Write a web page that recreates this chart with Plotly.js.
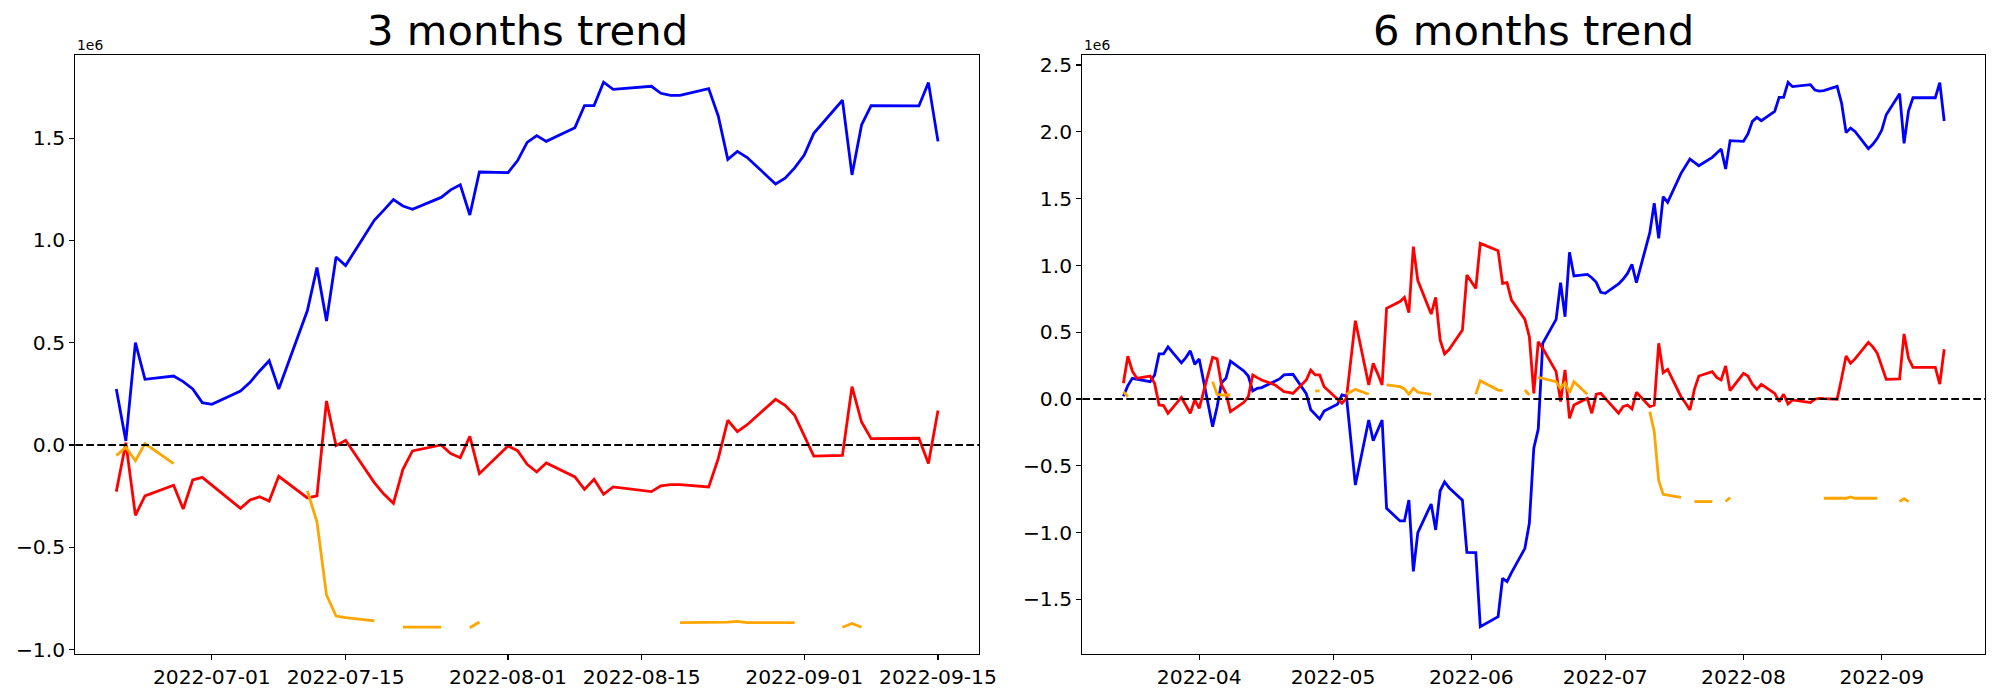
<!DOCTYPE html>
<html>
<head>
<meta charset="utf-8">
<script src="https://cdn.plot.ly/plotly-3.0.1.min.js"></script>
<style>html,body{margin:0;padding:0;background:#fff;}</style>
</head>
<body>
<div id="chart" style="width:2000px;height:700px;"></div>
<script>
// ---------- 3 months panel (values in units of 1e6) ----------
const dates3m = ['2022-06-21','2022-06-22','2022-06-23','2022-06-24','2022-06-27','2022-06-28','2022-06-29','2022-06-30','2022-07-01',
'2022-07-04','2022-07-05','2022-07-06','2022-07-07','2022-07-08','2022-07-11','2022-07-12','2022-07-13','2022-07-14','2022-07-15',
'2022-07-18','2022-07-19','2022-07-20','2022-07-21','2022-07-22','2022-07-25','2022-07-26','2022-07-27','2022-07-28','2022-07-29',
'2022-08-01','2022-08-02','2022-08-03','2022-08-04','2022-08-05','2022-08-08','2022-08-09','2022-08-10','2022-08-11','2022-08-12',
'2022-08-16','2022-08-17','2022-08-18','2022-08-19','2022-08-22','2022-08-23','2022-08-24','2022-08-25','2022-08-26',
'2022-08-29','2022-08-30','2022-08-31','2022-09-01','2022-09-02','2022-09-05','2022-09-06','2022-09-07','2022-09-08',
'2022-09-13','2022-09-14','2022-09-15'];
const blue3m = [0.274,0.02,0.500,0.321,0.337,0.31,0.274,0.207,0.199,
0.264,0.306,0.362,0.412,0.274,0.657,0.867,0.606,0.919,0.877,
1.098,1.148,1.199,1.168,1.152,1.210,1.247,1.272,1.124,1.334,
1.331,1.390,1.479,1.512,1.484,1.551,1.659,1.659,1.773,1.738,
1.753,1.719,1.709,1.709,1.742,1.608,1.396,1.435,1.406,
1.276,1.304,1.354,1.417,1.523,1.685,1.320,1.564,1.659,
1.657,1.771,1.484];
const red3m = [-0.228,0.011,-0.344,-0.249,-0.197,-0.313,-0.171,-0.158,-0.196,
-0.310,-0.269,-0.253,-0.274,-0.153,-0.259,-0.249,0.215,-0.003,0.023,
-0.184,-0.240,-0.285,-0.119,-0.029,0.0,-0.042,-0.062,0.042,-0.140,
-0.005,-0.028,-0.094,-0.132,-0.088,-0.156,-0.217,-0.168,-0.241,-0.205,
-0.228,-0.200,-0.194,-0.194,-0.205,-0.067,0.121,0.065,0.098,
0.223,0.194,0.145,0.047,-0.054,-0.051,0.285,0.112,0.031,
0.033,-0.090,0.169];
const orange3m = [-0.052,-0.011,-0.077,0.007,-0.091,null,null,null,null,
null,null,null,null,null,-0.225,-0.376,-0.733,-0.836,-0.844,
-0.860,null,null,-0.890,-0.890,-0.890,null,null,-0.893,-0.865,
null,null,null,null,null,null,null,null,null,null,
null,null,null,-0.868,-0.868,-0.868,-0.866,-0.862,-0.868,
-0.868,-0.868,-0.868,null,null,-0.891,-0.872,-0.891,null,
null,null,null];
const xticks3m = ['2022-07-01','2022-07-15','2022-08-01','2022-08-15','2022-09-01','2022-09-15'];

// ---------- 6 months panel (values in units of 1e6) ----------
const dates6m = [
'2022-03-15','2022-03-16','2022-03-17','2022-03-18','2022-03-21','2022-03-22','2022-03-23','2022-03-24','2022-03-25','2022-03-28','2022-03-29','2022-03-30','2022-03-31',
'2022-04-01','2022-04-04','2022-04-05','2022-04-06','2022-04-07','2022-04-08','2022-04-11','2022-04-12','2022-04-13','2022-04-14','2022-04-15','2022-04-18','2022-04-19','2022-04-20','2022-04-21','2022-04-22','2022-04-25','2022-04-26','2022-04-27','2022-04-28','2022-04-29',
'2022-05-02','2022-05-03','2022-05-04','2022-05-06','2022-05-09','2022-05-10','2022-05-11','2022-05-12','2022-05-13','2022-05-16','2022-05-17','2022-05-18','2022-05-19','2022-05-20','2022-05-23','2022-05-24','2022-05-25','2022-05-26','2022-05-27','2022-05-30','2022-05-31',
'2022-06-02','2022-06-03','2022-06-07','2022-06-08','2022-06-09','2022-06-10','2022-06-13','2022-06-14','2022-06-15','2022-06-16','2022-06-17','2022-06-20','2022-06-21','2022-06-22','2022-06-23','2022-06-24','2022-06-27','2022-06-28','2022-06-29','2022-06-30',
'2022-07-01','2022-07-04','2022-07-05','2022-07-06','2022-07-07','2022-07-08','2022-07-11','2022-07-12','2022-07-13','2022-07-14','2022-07-15','2022-07-18','2022-07-19','2022-07-20','2022-07-21','2022-07-22','2022-07-25','2022-07-26','2022-07-27','2022-07-28','2022-07-29',
'2022-08-01','2022-08-02','2022-08-03','2022-08-04','2022-08-05','2022-08-08','2022-08-09','2022-08-10','2022-08-11','2022-08-12','2022-08-16','2022-08-17','2022-08-18','2022-08-19','2022-08-22','2022-08-23','2022-08-24','2022-08-25','2022-08-26','2022-08-29','2022-08-30','2022-08-31',
'2022-09-01','2022-09-02','2022-09-05','2022-09-06','2022-09-07','2022-09-08','2022-09-13','2022-09-14','2022-09-15'];
const blue6m = [
0.02,0.10,0.155,0.15,0.13,0.18,0.337,0.337,0.39,0.27,0.31,0.36,0.26,
0.30,-0.207,-0.06,0.122,0.155,0.284,0.21,0.172,0.06,0.08,0.085,0.13,0.15,0.18,0.18,0.185,0.04,-0.08,-0.115,-0.15,-0.09,
-0.04,0.03,0.022,-0.644,-0.157,-0.312,-0.23,-0.157,-0.818,-0.913,-0.913,-0.756,-1.29,-1.0,-0.786,-0.98,-0.689,-0.621,-0.664,-0.758,-1.148,
-1.15,-1.704,-1.63,-1.342,-1.367,-1.30,-1.118,-0.93,-0.369,-0.225,0.417,0.596,0.871,0.616,1.098,0.921,0.933,0.908,0.873,0.798,
0.791,0.861,0.896,0.94,1.008,0.871,1.245,1.465,1.203,1.514,1.472,1.689,1.744,1.796,1.771,1.746,1.809,1.839,1.871,1.722,1.934,
1.929,1.984,2.078,2.108,2.083,2.153,2.258,2.258,2.370,2.338,2.353,2.313,2.305,2.308,2.340,2.213,1.994,2.028,2.003,1.874,1.906,1.951,
2.013,2.128,2.285,1.914,2.158,2.255,2.255,2.368,2.081];
const red6m = [
0.117,0.32,0.21,0.155,0.172,0.117,-0.045,-0.05,-0.107,0.012,-0.047,-0.107,-0.007,
-0.07,0.312,0.30,0.105,0.042,-0.095,-0.025,0.017,0.18,0.16,0.142,0.105,0.08,0.055,0.05,0.042,0.142,0.217,0.18,0.18,0.092,
-0.002,-0.032,0.005,0.586,0.105,0.267,0.19,0.105,0.679,0.729,0.761,0.646,1.14,0.886,0.636,0.761,0.442,0.337,0.37,0.516,0.928,
0.828,1.165,1.11,0.866,0.871,0.74,0.596,0.467,0.042,0.429,0.38,0.205,-0.02,0.217,-0.145,-0.045,0.005,-0.107,0.035,0.042,
0.005,-0.107,-0.057,-0.045,-0.075,0.05,-0.057,-0.045,0.417,0.197,0.222,0.017,-0.03,-0.082,0.072,0.172,0.205,0.162,0.142,0.247,0.062,
0.192,0.172,0.11,0.072,0.11,0.042,-0.02,0.035,-0.037,-0.007,-0.027,-0.002,0.005,0.002,-0.002,0.155,0.322,0.267,0.30,0.424,0.39,0.342,
0.25,0.147,0.15,0.487,0.304,0.237,0.237,0.112,0.372];
const orange6m = [
0.055,0.017,null,null,null,null,null,null,null,null,null,null,null,
null,0.13,0.035,0.03,0.03,0.03,null,null,null,null,null,null,null,null,null,null,null,null,0.06,0.06,null,
null,null,0.035,0.072,0.035,null,null,null,0.105,0.092,0.075,0.035,0.08,0.05,0.035,null,null,null,null,null,null,
0.035,0.137,0.067,0.062,null,null,0.067,0.03,null,0.162,0.155,0.13,0.08,0.122,0.047,0.13,0.035,null,null,null,
null,null,null,null,null,null,-0.095,-0.245,-0.611,-0.714,-0.72,-0.736,null,null,-0.768,-0.768,-0.768,null,null,-0.768,-0.738,
null,null,null,null,null,null,null,null,null,null,null,null,null,-0.743,-0.743,-0.743,-0.743,-0.733,-0.743,-0.743,-0.743,-0.743,
null,null,-0.768,-0.746,-0.768,null,null,null,null];
const xticks6m = ['2022-04-01','2022-05-01','2022-06-01','2022-07-01','2022-08-01','2022-09-01'];

const titles = ['3 months trend', '6 months trend'];
const offsetLabel = '1e6';

// ---------- styling ----------
const LW = 2.8;
function series(x, y, color, xa, ya) {
  return {x: x, y: y, type: 'scatter', mode: 'lines', xaxis: xa, yaxis: ya,
          line: {color: color, width: LW}, connectgaps: false, hoverinfo: 'skip'};
}
const traces = [
  series(dates3m, blue3m, '#0000ff', 'x', 'y'),
  series(dates3m, red3m, '#ff0000', 'x', 'y'),
  series(dates3m, orange3m, '#ffa500', 'x', 'y'),
  series(dates6m, blue6m, '#0000ff', 'x2', 'y2'),
  series(dates6m, red6m, '#ff0000', 'x2', 'y2'),
  series(dates6m, orange6m, '#ffa500', 'x2', 'y2')
];

const W = 2000, H = 700;
const ax1 = [75.3, 979], ax2 = [1082.3, 1985.3], axY = [55, 654];
const dom = (a, b, s) => [a / s, b / s];
const ydom = [(H - axY[1]) / H, (H - axY[0]) / H];

const common = {
  showgrid: false, zeroline: false, showline: true, mirror: true,
  linecolor: 'black', linewidth: 1.1, ticks: 'outside', ticklen: 5,
  tickwidth: 1.1, tickcolor: 'black',
  tickfont: {family: 'DejaVu Sans', size: 20.3, color: 'black'}
};

const layout = {
  width: W, height: H, margin: {l: 0, r: 0, t: 0, b: 0},
  paper_bgcolor: 'white', plot_bgcolor: 'white', showlegend: false,
  font: {family: 'DejaVu Sans', color: 'black'},
  xaxis: Object.assign({}, common, {domain: dom(ax1[0], ax1[1], W), anchor: 'y', type: 'date',
    range: ['2022-06-16 17:00', '2022-09-19 07:00'], tickvals: xticks3m, tickformat: '%Y-%m-%d'}),
  yaxis: Object.assign({}, common, {domain: ydom, anchor: 'x',
    range: [-1.0215, 1.906], tickvals: [-1, -0.5, 0, 0.5, 1, 1.5], tickformat: '.1f'}),
  xaxis2: Object.assign({}, common, {domain: dom(ax2[0], ax2[1], W), anchor: 'y2', type: 'date',
    range: ['2022-03-05 19:00', '2022-09-24 05:00'], tickvals: xticks6m, tickformat: '%Y-%m'}),
  yaxis2: Object.assign({}, common, {domain: ydom, anchor: 'x2',
    range: [-1.909, 2.575], tickvals: [-1.5, -1, -0.5, 0, 0.5, 1, 1.5, 2, 2.5], tickformat: '.1f'}),
  shapes: [
    {type: 'line', xref: 'x domain', yref: 'y', x0: 0, x1: 1, y0: 0, y1: 0,
     line: {color: 'black', width: 2.1, dash: '7.7px,3.3px'}},
    {type: 'line', xref: 'x2 domain', yref: 'y2', x0: 0, x1: 1, y0: 0, y1: 0,
     line: {color: 'black', width: 2.1, dash: '7.7px,3.3px'}}
  ],
  annotations: [
    {text: titles[0], xref: 'paper', yref: 'paper', x: (ax1[0] + ax1[1]) / 2 / W, y: (H - 57) / H,
     xanchor: 'center', yanchor: 'bottom', showarrow: false, font: {size: 41.7, color: 'black'}},
    {text: titles[1], xref: 'paper', yref: 'paper', x: (ax2[0] + ax2[1]) / 2 / W, y: (H - 57) / H,
     xanchor: 'center', yanchor: 'bottom', showarrow: false, font: {size: 41.7, color: 'black'}},
    {text: offsetLabel, xref: 'paper', yref: 'paper', x: ax1[0] / W, y: (H - 55) / H,
     xanchor: 'left', yanchor: 'bottom', showarrow: false, font: {size: 13.9, color: 'black'}},
    {text: offsetLabel, xref: 'paper', yref: 'paper', x: ax2[0] / W, y: (H - 55) / H,
     xanchor: 'left', yanchor: 'bottom', showarrow: false, font: {size: 13.9, color: 'black'}}
  ]
};

Plotly.newPlot('chart', traces, layout, {displayModeBar: false, staticPlot: true});
</script>
</body>
</html>
